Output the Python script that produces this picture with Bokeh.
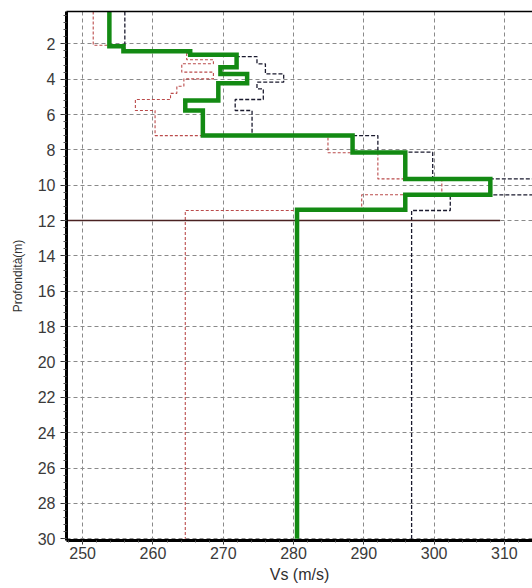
from bokeh.plotting import figure
from bokeh.models import Range1d, SingleIntervalTicker, LinearAxis, FixedTicker
from bokeh.embed import file_html
from bokeh.resources import INLINE

# ---- data ----
max_depth = 30.0

# best model (green, thick)
green_top = [0.17, 2.14, 2.42, 2.62, 3.32, 3.70, 4.23, 5.20, 5.77, 7.19, 8.15, 9.64, 10.54, 11.39]
green_vs = [253.8, 255.8, 265.3, 271.9, 269.6, 273.4, 269.3, 264.6, 267.1, 288.4, 295.9, 308.0, 295.9, 280.5]

# lower bound (red dashed)
red_top = [0.17, 2.08, 2.40, 2.90, 3.13, 3.60, 3.98, 4.40, 4.80, 5.15, 5.77, 7.19, 8.16, 9.64, 10.54, 11.43]
red_vs = [251.5, 256.0, 264.8, 268.6, 264.1, 268.6, 264.4, 263.4, 262.5, 257.5, 260.3, 284.9, 292.0, 301.1, 289.7, 264.6]

# upper bound (black dashed)
black_top = [0.17, 2.38, 2.55, 2.72, 3.13, 3.70, 4.17, 4.55, 5.15, 5.77, 7.19, 8.13, 9.64, 10.54, 11.43]
black_vs = [256.0, 265.0, 271.7, 274.8, 276.0, 278.6, 274.8, 275.7, 271.7, 274.1, 292.0, 299.8, 318.0, 302.3, 296.8]

# horizontal interface line
interface_depth = [12.0, 12.0]
interface_vs = [247.7, 309.4]

x_ticks_interval = 10
y_ticks_interval = 2


def steps(tops, vs, bottom):
    xs, ys = [], []
    for i, (t, v) in enumerate(zip(tops, vs)):
        b = tops[i + 1] if i + 1 < len(tops) else bottom
        xs += [v, v]
        ys += [t, b]
    return xs, ys


p = figure(
    width=532, height=588,
    x_range=Range1d(247.7, 314.0),
    y_range=Range1d(30.1, 0.17),
    output_backend="svg", toolbar_location=None,
    min_border_left=66, min_border_right=0, min_border_top=11, min_border_bottom=48,
)
p.outline_line_color = None
p.background_fill_color = "white"
p.border_fill_color = "white"

font = "Liberation Sans"

# axes
xa = p.xaxis[0]
xa.ticker = SingleIntervalTicker(interval=x_ticks_interval, num_minor_ticks=5)
ya = p.yaxis[0]
ya.ticker = SingleIntervalTicker(interval=y_ticks_interval, num_minor_ticks=5)
for ax in (xa, ya):
    ax.axis_line_width = 3
    ax.axis_line_color = "black"
    ax.major_tick_in = 0
    ax.minor_tick_in = 0
    ax.major_tick_line_color = "#303030"
    ax.minor_tick_line_color = "#505050"
    ax.major_label_text_font = font
    ax.major_label_text_font_size = "16px"
    ax.major_label_text_color = "#3a3a3a"
    ax.axis_label_text_font = font
    ax.axis_label_text_font_style = "normal"
    ax.axis_label_text_color = "#303030"

xa.major_tick_out = 4
xa.minor_tick_out = 2
xa.major_label_standoff = 2
xa.axis_label = "Vs (m/s)"
xa.axis_label_text_font_size = "16px"
xa.axis_label_standoff = 4

ya.major_tick_out = 6
ya.minor_tick_out = 3
ya.major_label_standoff = 5
ya.axis_label = "Profondità(m)"
ya.axis_label_text_font_size = "12px"
ya.axis_label_standoff = 10

top_axis = LinearAxis(
    ticker=FixedTicker(ticks=[], minor_ticks=[]),
    axis_line_width=1.3, axis_line_color="black",
    major_tick_out=0, major_tick_in=0, minor_tick_out=0, minor_tick_in=0,
    major_label_standoff=0, major_label_text_font_size="0px",
)
p.add_layout(top_axis, "above")

# grid
for g in (p.xgrid[0], p.ygrid[0]):
    g.grid_line_color = "#8a8a8a"
    g.grid_line_dash = "4 3"
    g.grid_line_width = 1

# profiles
rx, ry = steps(red_top, red_vs, max_depth)
p.line(rx, ry, line_color="#bb4b4b", line_width=1.1, line_dash="3 2")

bx, by = steps(black_top, black_vs, max_depth)
p.line(bx, by, line_color="#1a1a2e", line_width=1.3, line_dash="4 2")

p.line(interface_vs, interface_depth, line_color="#4a2222", line_width=1.5)

gx, gy = steps(green_top, green_vs, max_depth)
p.line(gx, gy, line_color="#138a13", line_width=4.5, line_join="miter")

open("out.html", "w").write(file_html(p, INLINE))
